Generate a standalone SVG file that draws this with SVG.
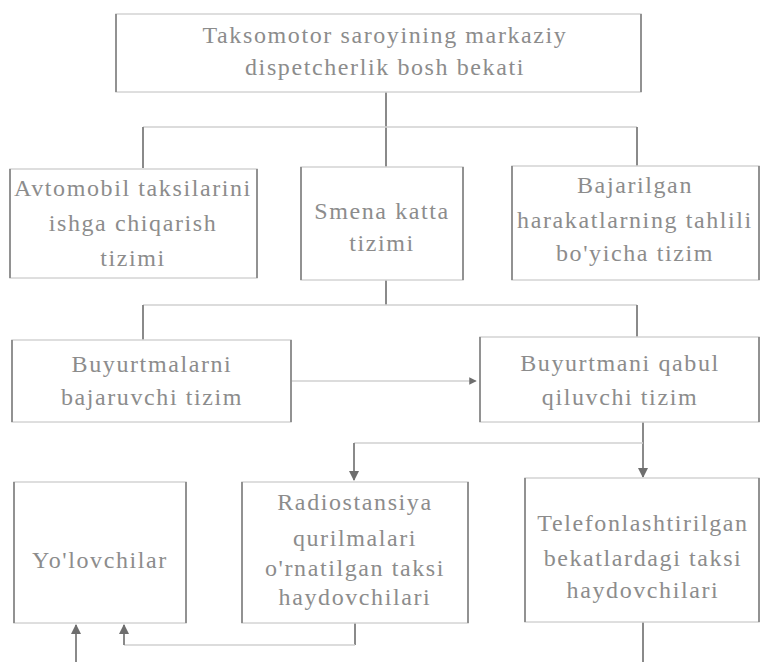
<svg xmlns="http://www.w3.org/2000/svg" width="761" height="662" viewBox="0 0 761 662">
<defs>
<style>
.box{fill:#fff;stroke:#d4d4d4;stroke-width:1.5}
.side{stroke:#8a8a8a;stroke-width:1.8}
.t{font-family:"Liberation Serif","DejaVu Serif",serif;font-size:24px;letter-spacing:1.6px;fill:#8c8c8c;text-anchor:middle}
.v{stroke:#8a8a8a;stroke-width:2;fill:none}
.h{stroke:#d0d0d0;stroke-width:1.5;fill:none}
</style>
<marker id="ah" viewBox="0 0 10 10" refX="9" refY="5" markerWidth="5" markerHeight="5" orient="auto-start-reverse" markerUnits="strokeWidth">
<path d="M0,0 L10,5 L0,10 z" fill="#6e6e6e"/>
</marker>
</defs>
<rect width="761" height="662" fill="#fff"/>
<g id="connectors">
<path class="v" d="M386,92 V167"/>
<path class="h" d="M143,127 H637"/>
<path class="v" d="M143,127 V168"/>
<path class="v" d="M637,127 V166"/>
<path class="v" d="M386,280 V305"/>
<path class="h" d="M143,305 H637"/>
<path class="v" d="M143,305 V340"/>
<path class="v" d="M637,305 V337"/>
<path class="h" d="M291,381 H476" marker-end="url(#ah)"/>
<path class="v" d="M643,422 V477" marker-end="url(#ah)"/>
<path class="h" d="M354,443 H643"/>
<path class="v" d="M354,443 V480" marker-end="url(#ah)"/>
<path class="v" d="M643,622 V662"/>
<path class="v" d="M355,623 V645"/>
<path class="h" d="M124,645 H355"/>
<path class="v" d="M124,645 V625" marker-end="url(#ah)"/>
<path class="v" d="M76,662 V625" marker-end="url(#ah)"/>
</g>
<g id="title">
<rect class="box" x="116" y="14" width="525" height="78"/>
<line class="side" x1="116" y1="14" x2="116" y2="92"/><line class="side" x1="641" y1="14" x2="641" y2="92"/>
<text class="t" x="385" y="43">Taksomotor saroyining markaziy</text>
<text class="t" x="385" y="75">dispetcherlik bosh bekati</text>
</g>
<g id="n-avtomobil">
<rect class="box" x="10" y="169" width="247" height="109"/>
<line class="side" x1="10" y1="169" x2="10" y2="278"/><line class="side" x1="257" y1="169" x2="257" y2="278"/>
<text class="t" x="133" y="196">Avtomobil taksilarini</text>
<text class="t" x="133" y="231">ishga chiqarish</text>
<text class="t" x="133" y="266">tizimi</text>
</g>
<g id="n-smena">
<rect class="box" x="301" y="167" width="162" height="113"/>
<line class="side" x1="301" y1="167" x2="301" y2="280"/><line class="side" x1="463" y1="167" x2="463" y2="280"/>
<text class="t" x="382" y="219">Smena katta</text>
<text class="t" x="382" y="251">tizimi</text>
</g>
<g id="n-tahlil">
<rect class="box" x="512" y="166" width="247" height="114"/>
<line class="side" x1="512" y1="166" x2="512" y2="280"/><line class="side" x1="759" y1="166" x2="759" y2="280"/>
<text class="t" x="635" y="193">Bajarilgan</text>
<text class="t" x="635" y="228">harakatlarning tahlili</text>
<text class="t" x="635" y="261">bo'yicha tizim</text>
</g>
<g id="n-bajaruvchi">
<rect class="box" x="12" y="340" width="279" height="82"/>
<line class="side" x1="12" y1="340" x2="12" y2="422"/><line class="side" x1="291" y1="340" x2="291" y2="422"/>
<text class="t" x="152" y="372">Buyurtmalarni</text>
<text class="t" x="152" y="405">bajaruvchi tizim</text>
</g>
<g id="n-qabul">
<rect class="box" x="480" y="337" width="279" height="85"/>
<line class="side" x1="480" y1="337" x2="480" y2="422"/><line class="side" x1="759" y1="337" x2="759" y2="422"/>
<text class="t" x="620" y="371">Buyurtmani qabul</text>
<text class="t" x="620" y="405">qiluvchi tizim</text>
</g>
<g id="n-yolovchilar">
<rect class="box" x="14" y="482" width="172" height="141"/>
<line class="side" x1="14" y1="482" x2="14" y2="623"/><line class="side" x1="186" y1="482" x2="186" y2="623"/>
<text class="t" x="100" y="568">Yo'lovchilar</text>
</g>
<g id="n-radio">
<rect class="box" x="242" y="482" width="226" height="141"/>
<line class="side" x1="242" y1="482" x2="242" y2="623"/><line class="side" x1="468" y1="482" x2="468" y2="623"/>
<text class="t" x="355" y="510">Radiostansiya</text>
<text class="t" x="355" y="546">qurilmalari</text>
<text class="t" x="355" y="576">o'rnatilgan taksi</text>
<text class="t" x="355" y="605">haydovchilari</text>
</g>
<g id="n-telefon">
<rect class="box" x="525" y="478" width="234" height="144"/>
<line class="side" x1="525" y1="478" x2="525" y2="622"/><line class="side" x1="759" y1="478" x2="759" y2="622"/>
<text class="t" x="643" y="531">Telefonlashtirilgan</text>
<text class="t" x="643" y="566">bekatlardagi taksi</text>
<text class="t" x="643" y="598">haydovchilari</text>
</g>
</svg>
